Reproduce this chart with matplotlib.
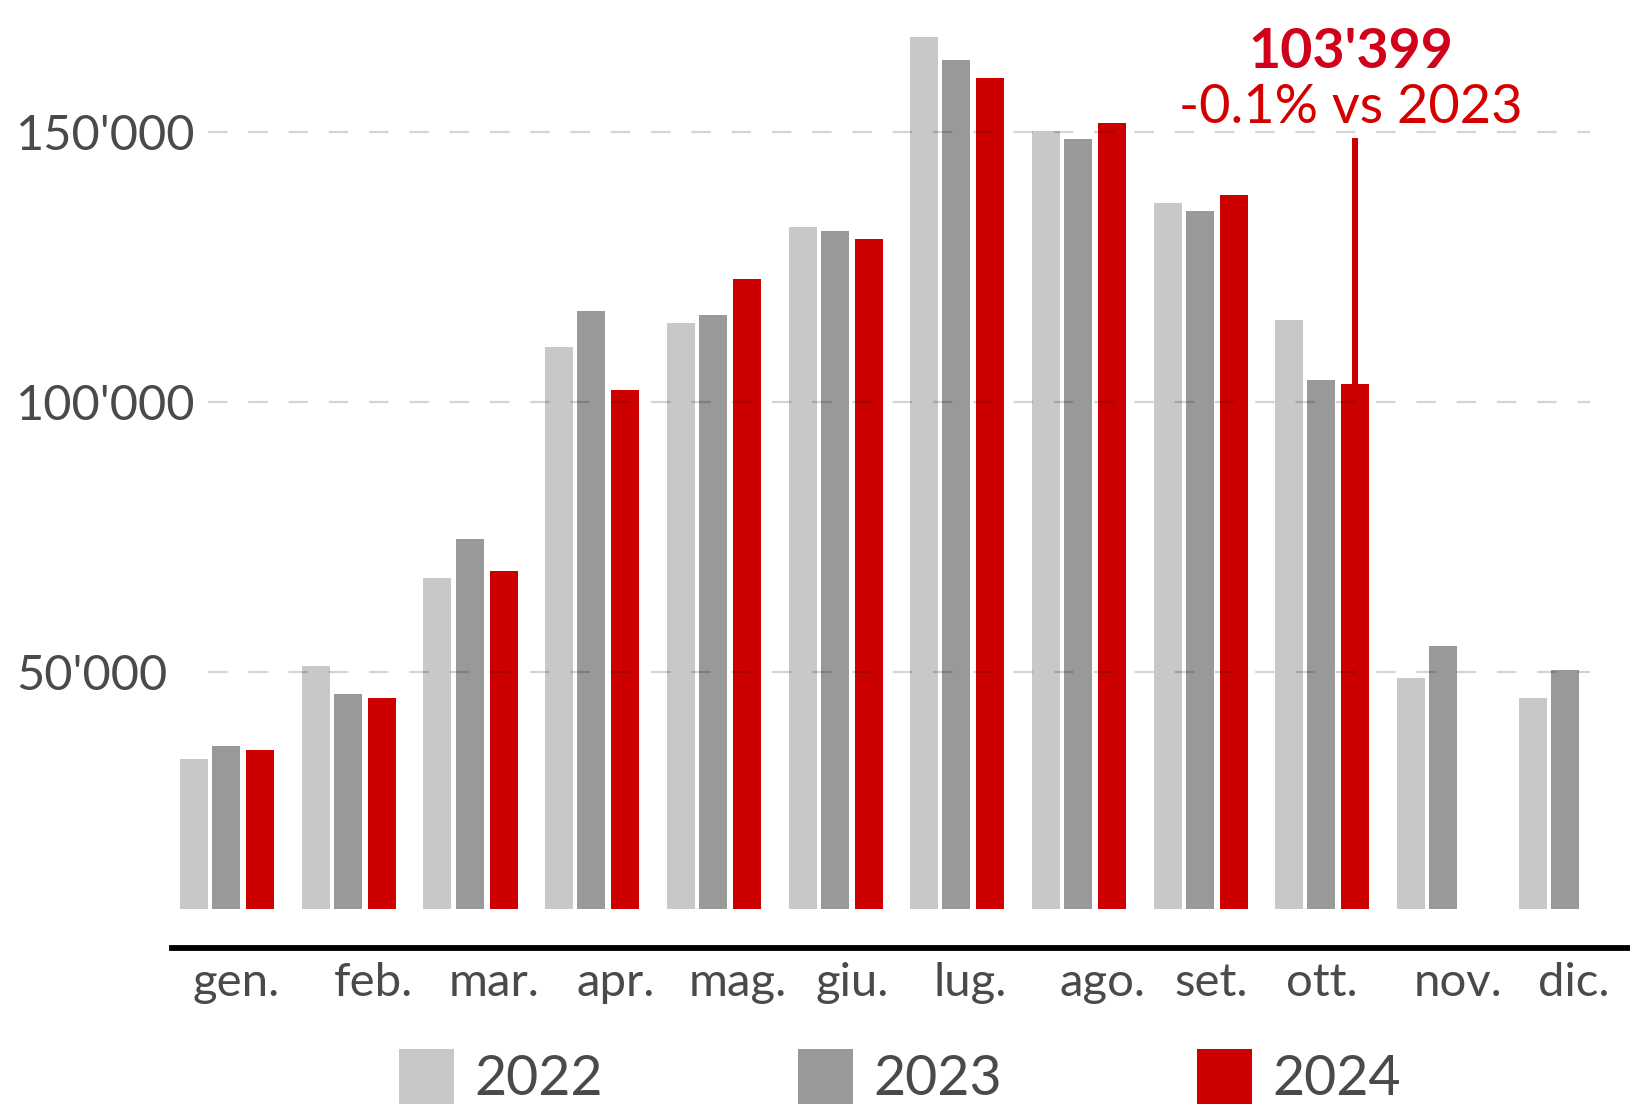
import matplotlib
matplotlib.use("Agg")
import matplotlib.pyplot as plt
import numpy as np

months = ["gen.", "feb.", "mar.", "apr.", "mag.", "giu.", "lug.", "ago.", "set.", "ott.", "nov.", "dic."]
v2022 = [34000, 51150, 67500, 110300, 114700, 132500, 167700, 150200, 136900, 115300, 49000, 45200]
v2023 = [36300, 45950, 74650, 116850, 116100, 131700, 163300, 148850, 135350, 104100, 54800, 50400]
v2024 = [35550, 45200, 68700, 102200, 122800, 130150, 160050, 151750, 138450, 103399]
years = ["2022", "2023", "2024"]
yticks = [50000, 100000, 150000]
ytick_labels = ["50'000", "100'000", "150'000"]
annot_value = "103'399"
annot_change = "-0.1% vs 2023"

# layout / style
label_shift = [0.08, 0.21, 0.20, 0.20, 0.20, 0.14, 0.11, 0.20, 0.09, 0.00, 0.12, 0.07]
offsets = [-0.264, 0.0, 0.279]
colors = ["#c8c8c8", "#999999", "#cc0000"]
text_gray = "#4a4a4a"
plt.rcParams["font.family"] = ["Lato", "DejaVu Sans"]
plt.rcParams["lines.scale_dashes"] = False

W, H = 1630, 1108
fig = plt.figure(figsize=(W / 100, H / 100), dpi=100)
ax = fig.add_axes([172 / W, 1 - 909.3 / H, 1 - 172 / W, 909.3 / H])

x = np.arange(len(months))
bw = 0.23
series = [v2022, v2023, v2024]
for k, (vals, c, lab) in enumerate(zip(series, colors, years)):
    xs = x[:len(vals)] + offsets[k]
    ax.bar(xs, vals, width=bw, color=c, label=lab, zorder=2)

ax.set_xlim(-0.445, 11.535)
ax.set_ylim(6100, 174500)

# dashed gridlines on top of bars
for yv in yticks:
    ax.axhline(yv, xmin=(208 - 172) / (W - 172), xmax=(1590 - 172) / (W - 172),
               color="black", alpha=0.17, lw=1.6, linestyle=(0, (14, 15)), zorder=3)

ax.set_yticks(yticks)
ax.set_yticklabels(ytick_labels)
ax.tick_params(axis="y", length=0, pad=112.3, labelsize=35, labelcolor=text_gray)
for t in ax.get_yticklabels():
    t.set_verticalalignment("center_baseline")
    t.set_horizontalalignment("left")

ax.set_xticks(x + np.array(label_shift))
ax.set_xticklabels(months)
ax.tick_params(axis="x", length=0, pad=10, labelsize=34, labelcolor=text_gray)

for s in ["top", "right", "left"]:
    ax.spines[s].set_visible(False)
ax.spines["bottom"].set_position(("outward", 28))
ax.spines["bottom"].set_linewidth(4.2)
ax.spines["bottom"].set_color("black")

# annotation
i = len(v2024) - 1
xa = x[i] + offsets[2]
ax.plot([xa, xa], [v2024[i], 149000], color="#cc0000", lw=4.3, zorder=4, solid_capstyle="butt")
ax.text(xa - 0.04, 151700, annot_change, ha="center", va="baseline", fontsize=39, color="#d40000")
ax.text(xa - 0.04, 161900, annot_value, ha="center", va="baseline", fontsize=40,
        fontweight="bold", color="#d0021b")

leg = fig.legend(loc="center", bbox_to_anchor=(900 / W, 1 - 1077 / H), ncol=3, frameon=False,
                 fontsize=40, handlelength=0.99, handleheight=1.15, handletextpad=0.38,
                 columnspacing=3.5, borderpad=0, borderaxespad=0)
for t in leg.get_texts():
    t.set_color(text_gray)

fig.savefig("out.png", dpi=100)
